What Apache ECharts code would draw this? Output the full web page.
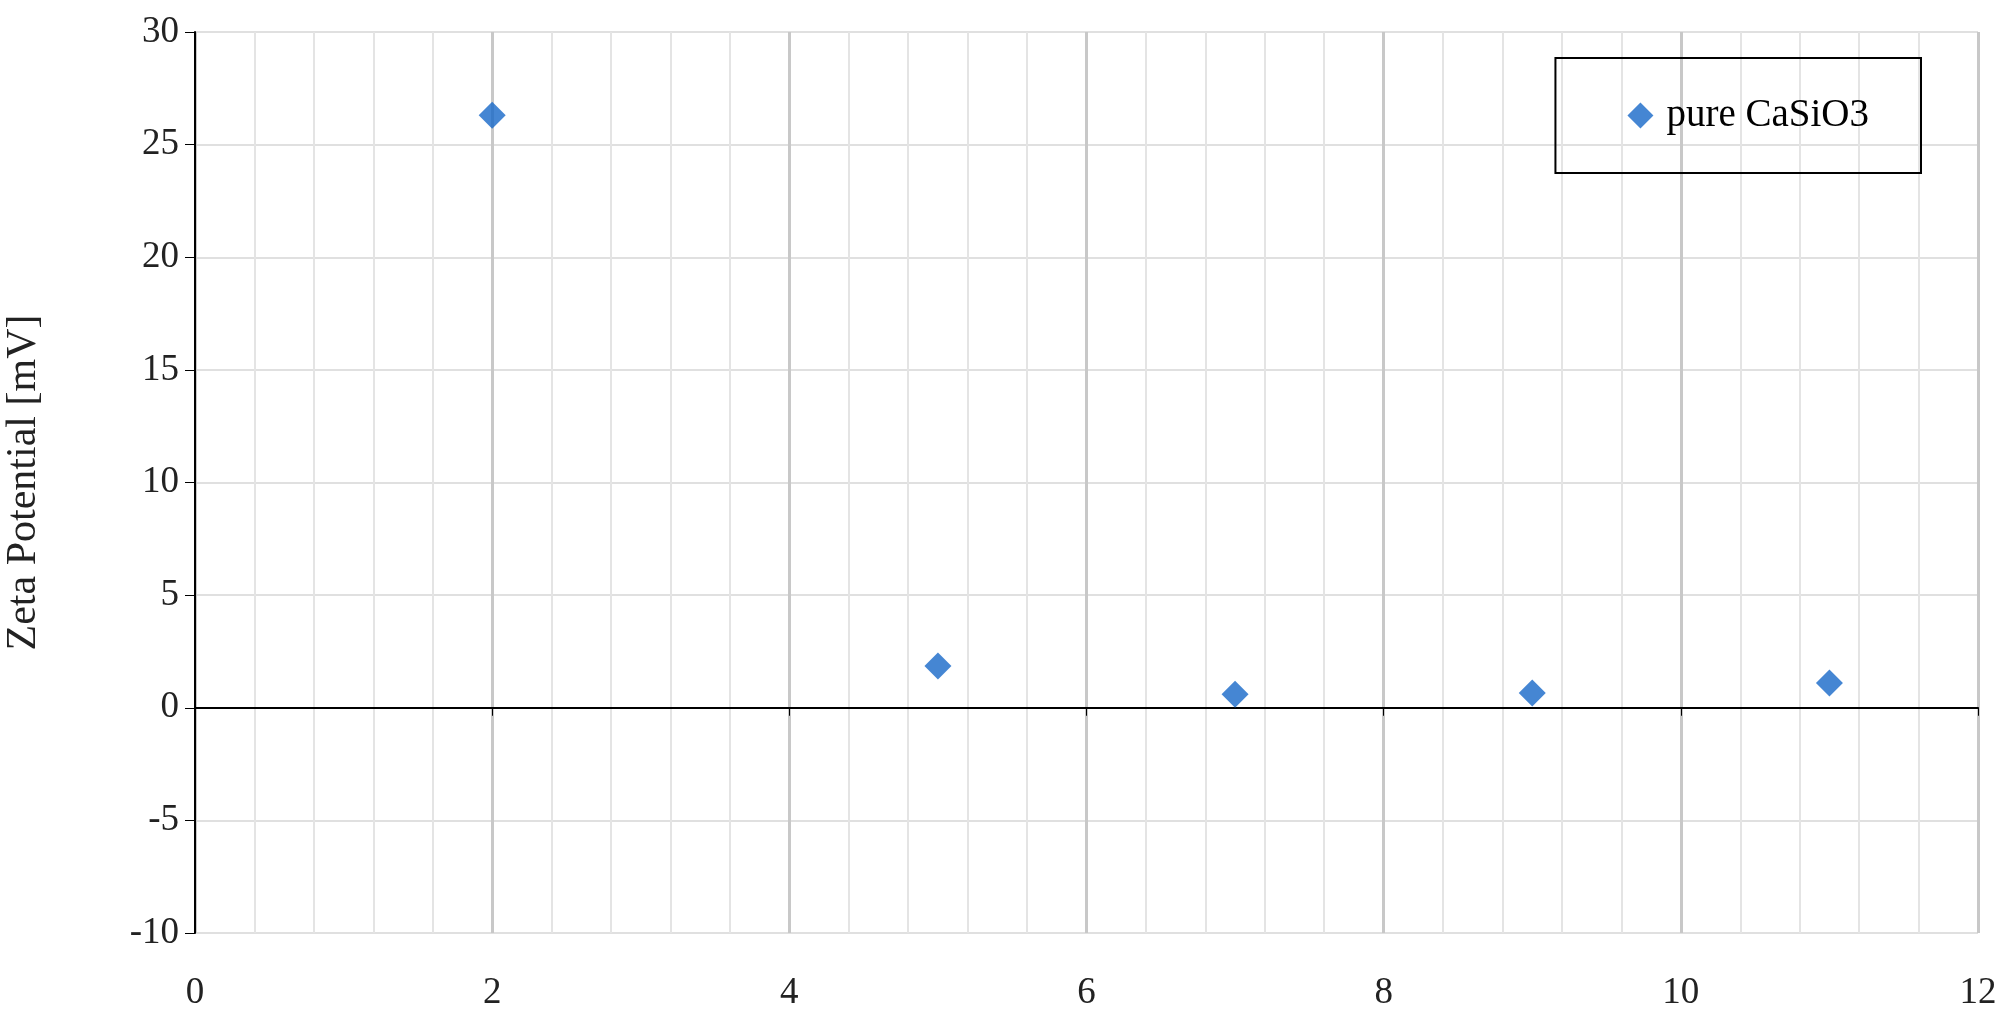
<!DOCTYPE html>
<html><head><meta charset="utf-8">
<script src="https://cdn.jsdelivr.net/npm/echarts@6/dist/echarts.min.js"></script>
<style>html,body{margin:0;background:#fff}#c{width:2014px;height:1024px}</style>
</head><body><div id="c"></div>
<script>
// data
var phValues = [2, 5, 7, 9, 11];
var zetaValues = [26.3, 1.85, 0.6, 0.65, 1.1];
var seriesName = 'pure CaSiO3';

var points = phValues.map(function (p, i) { return [p, zetaValues[i]]; });
var font = 'Liberation Serif';

var chart = echarts.init(document.getElementById('c'));
chart.setOption({
  animation: false,
  textStyle: { fontFamily: font },
  grid: { left: 195, right: 36, top: 32, bottom: 91, outerBoundsMode: 'none', containLabel: false },
  legend: {
    data: [{ name: seriesName, icon: 'diamond' }],
    right: 93, top: 58,
    padding: [38, 52, 38, 72],
    borderColor: '#000', borderWidth: 2,
    itemWidth: 26, itemHeight: 26,
    textStyle: { fontFamily: font, fontSize: 39, color: '#000', padding: [0, 0, 0, 8] }
  },
  xAxis: {
    type: 'value', min: 0, max: 12, interval: 2,
    name: 'pH', nameLocation: 'middle', nameGap: 262,
    nameTextStyle: { fontFamily: font, fontSize: 42, color: '#222' },
    axisLine: { onZero: true, lineStyle: { color: '#000', width: 2 } },
    axisTick: { show: true, length: 8, lineStyle: { color: '#000' } },
    axisLabel: { fontFamily: font, fontSize: 37, color: '#222', margin: 42 },
    splitLine: { show: true, lineStyle: { color: '#c8c8c8', width: 3 } },
    minorTick: { show: false, splitNumber: 5 },
    minorSplitLine: { show: true, lineStyle: { color: '#e4e4e4', width: 2 } }
  },
  yAxis: {
    type: 'value', min: -10, max: 30, interval: 5,
    name: 'Zeta Potential [mV]', nameLocation: 'middle', nameGap: 150,
    nameTextStyle: { fontFamily: font, fontSize: 42, color: '#222' },
    axisLine: { show: true, onZero: false, lineStyle: { color: '#000', width: 2 } },
    axisTick: { show: true, length: 10, lineStyle: { color: '#000' } },
    axisLabel: { fontFamily: font, fontSize: 37, color: '#222', margin: 16 },
    splitLine: { show: true, lineStyle: { color: '#e0e0e0', width: 2 } }
  },
  series: [{
    name: seriesName, type: 'scatter', symbol: 'diamond', symbolSize: 27,
    itemStyle: { color: '#1668c8' },
    data: points
  }]
});
</script></body></html>
